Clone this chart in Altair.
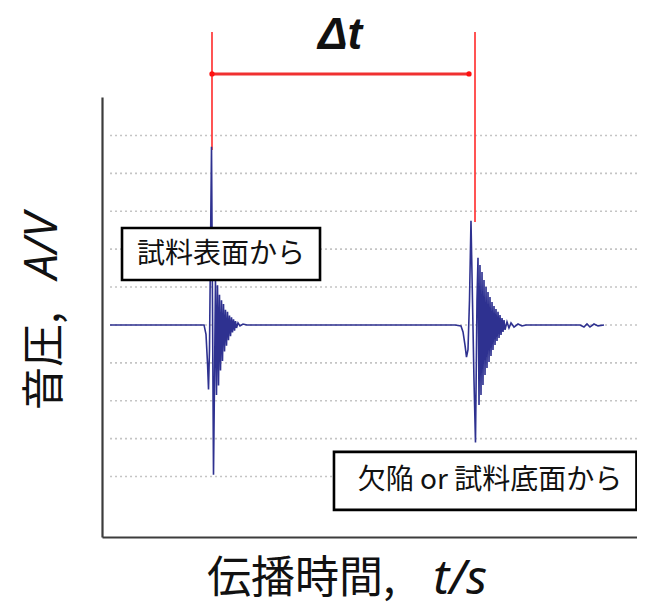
import altair as alt
import pandas as pd

# ---- waveform (time in µs, amplitude in relative volts) ----
t_us = [0.15, 1.907, 1.944, 1.972, 1.991, 2.009, 2.028, 2.047, 2.065, 2.084,
        2.103, 2.121, 2.140, 2.159, 2.178, 2.196, 2.215, 2.234, 2.252, 2.271,
        2.290, 2.308, 2.327, 2.346, 2.364, 2.383, 2.402, 2.421, 2.439, 2.458,
        2.477, 2.495, 2.514, 2.542, 2.579, 2.636, 2.710,
        6.598, 6.710, 6.748, 6.785, 6.813, 6.841, 6.869, 6.897, 6.925, 6.953,
        6.981, 7.009, 7.028, 7.047, 7.065, 7.084, 7.103, 7.121, 7.140, 7.159,
        7.178, 7.196, 7.215, 7.234, 7.252, 7.271, 7.290, 7.308, 7.327, 7.346,
        7.364, 7.383, 7.402, 7.421, 7.439, 7.458, 7.477, 7.495, 7.514, 7.533,
        7.570, 7.607, 7.645, 7.701, 7.776, 7.850, 7.925,
        8.935, 9.009, 9.065, 9.121, 9.196, 9.271, 9.383]
amp = [0.0, 0.0, -0.05, -0.20, -0.34, -0.13, 0.40, 0.94, 0.13, -0.79,
       -0.29, 0.24, -0.37, 0.21, -0.32, 0.16, -0.24, 0.13, -0.19, 0.11,
       -0.14, 0.08, -0.11, 0.07, -0.08, 0.05, -0.06, 0.04, -0.04, 0.03,
       -0.03, 0.02, -0.016, 0.011, -0.005, 0.005, 0.0,
       0.0, -0.005, -0.037, -0.106, -0.17, -0.13, 0.13, 0.55, 0.13, -0.29,
       -0.62, 0.13, 0.354, -0.422, 0.317, -0.369, 0.280, -0.317, 0.237, -0.264,
       0.201, -0.227, 0.174, -0.195, 0.148, -0.164, 0.121, -0.132, 0.100, -0.106,
       0.084, -0.084, 0.069, -0.069, 0.053, -0.053, 0.037, -0.037, 0.026, -0.026,
       0.016, -0.016, 0.011, -0.011, 0.005, -0.005, 0.0,
       0.0, -0.011, 0.005, -0.011, 0.005, -0.005, 0.0]

# ---- grid levels ----
grid_levels = [-0.8, -0.6, -0.4, -0.2, 0.0, 0.2, 0.4, 0.6, 0.8, 1.0]
grid_start = [0.15]
grid_end = [10.0]

# ---- Δt markers ----
echo_times = [2.056, 6.972]
echo_top = [1.546, 1.546]
echo_peak = [0.923, 0.544]
arrow_x = [2.056, 6.86]
arrow_y = [1.325, 1.325]
delta_label = ["Δt"]
delta_x = [4.449]
delta_y = [1.455]

# ---- label boxes ----
box_text = ["試料表面から", "欠陥 or 試料底面から"]
box_x0 = [0.374, 4.336]
box_x1 = [4.075, 9.99]
box_y0 = [0.512, -0.670]
box_y1 = [0.237, -0.976]
box_tx = [2.224, 7.252]
box_ty = [0.369, -0.823]

# ---- axis titles (two parts each: upright + italic) ----
ytitle_parts = ["音圧,", "A/V"]
ytitle_x = [-1.05, -1.10]
ytitle_y = [-0.449, 0.591]
xtitle_parts = ["伝播時間,", "t/s"]
xtitle_x = [1.963, 7.196]
xtitle_y = [-1.346, -1.346]

JP = "Noto Sans CJK JP"
xs = alt.Scale(domain=[0, 10], nice=False, zero=False)
ys = alt.Scale(domain=[-1.119, 1.203], nice=False, zero=False)
AX = alt.Axis(domain=True, ticks=False, labels=False, grid=False, title=None,
              domainColor="#3c3c3c", domainWidth=2.2)


def X(f):
    return alt.X(f, type="quantitative", scale=xs, axis=AX)


def Y(f):
    return alt.Y(f, type="quantitative", scale=ys, axis=AX)


wave = pd.DataFrame({"t": t_us, "a": amp})
grid = pd.DataFrame({"y": grid_levels, "x0": grid_start * len(grid_levels),
                     "x1": grid_end * len(grid_levels)})
echo = pd.DataFrame({"t": echo_times, "top": echo_top, "peak": echo_peak})
arrow = pd.DataFrame({"x": arrow_x, "y": arrow_y})
delta = pd.DataFrame({"label": delta_label, "x": delta_x, "y": delta_y})
boxes = pd.DataFrame({"text": box_text, "x0": box_x0, "x1": box_x1,
                      "y0": box_y0, "y1": box_y1, "tx": box_tx, "ty": box_ty})
yt = pd.DataFrame({"s": ytitle_parts, "x": ytitle_x, "y": ytitle_y})
xt = pd.DataFrame({"s": xtitle_parts, "x": xtitle_x, "y": xtitle_y})

grid_layer = alt.Chart(grid).mark_rule(color="#c4c4c4", strokeWidth=1.6,
                                       strokeDash=[2, 3]).encode(
    x=X("x0"), x2="x1", y=Y("y"))

wave_layer = alt.Chart(wave).mark_line(color="#2e3190", strokeWidth=1.6).encode(
    x=X("t"), y=Y("a"))

echo_layer = alt.Chart(echo).mark_rule(color="#ff2a2a", strokeWidth=1.6).encode(
    x=X("t"), y=Y("top"), y2="peak")

arrow_line = alt.Chart(arrow).mark_line(color="#f03030", strokeWidth=3).encode(
    x=X("x"), y=Y("y"))
arrow_pts = alt.Chart(arrow).mark_point(color="#ff1010", filled=True, size=28,
                                        opacity=1).encode(x=X("x"), y=Y("y"))

delta_layer = alt.Chart(delta).mark_text(font="Liberation Sans", fontSize=44,
                                         fontWeight="bold", fontStyle="italic",
                                         color="#111111", align="center",
                                         baseline="alphabetic").encode(
    x=X("x"), y=Y("y"), text="label:N")

box_layer = alt.Chart(boxes).mark_rect(fill="white", stroke="black",
                                       strokeWidth=2.6).encode(
    x=X("x0"), x2="x1", y=Y("y0"), y2="y1")
box_text_layer = alt.Chart(boxes).mark_text(font=JP, fontSize=28, color="#111111",
                                            align="center", baseline="middle").encode(
    x=X("tx"), y=Y("ty"), text="text:N")

yt0 = alt.Chart(yt.iloc[[0]]).mark_text(font=JP, fontSize=43, angle=270, align="left",
                                         baseline="middle", color="#111111").encode(
    x=X("x"), y=Y("y"), text="s:N")
yt1 = alt.Chart(yt.iloc[[1]]).mark_text(font="Noto Sans", fontSize=45, angle=270,
                                         align="right", fontStyle="italic",
                                         baseline="middle", color="#111111").encode(
    x=X("x"), y=Y("y"), text="s:N")
xt0 = alt.Chart(xt.iloc[[0]]).mark_text(font=JP, fontSize=44, align="left",
                                         baseline="middle", color="#111111").encode(
    x=X("x"), y=Y("y"), text="s:N")
xt1 = alt.Chart(xt.iloc[[1]]).mark_text(font="Noto Sans", fontSize=48, align="right",
                                         fontStyle="italic",
                                         baseline="middle", color="#111111").encode(
    x=X("x"), y=Y("y"), text="s:N")

chart = alt.layer(
    grid_layer, echo_layer, wave_layer, arrow_line, arrow_pts, delta_layer,
    box_layer, box_text_layer, yt0, yt1, xt0, xt1,
).properties(
    width=535, height=440,
    padding={"left": 94, "top": 89, "right": 0, "bottom": 70},
    autosize=alt.AutoSizeParams(type="none"),
    background="white",
).configure_view(stroke=None)

chart.save("out.html", embed_options={"renderer": "svg", "actions": False})
